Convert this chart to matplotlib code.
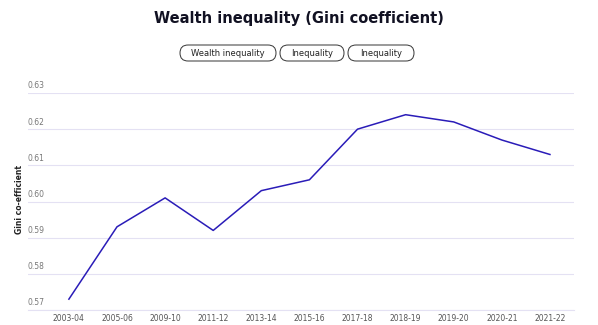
import matplotlib.pyplot as plt
from matplotlib.patches import FancyBboxPatch

years = ["2003-04", "2005-06", "2009-10", "2011-12", "2013-14", "2015-16",
         "2017-18", "2018-19", "2019-20", "2020-21", "2021-22"]
gini = [0.573, 0.593, 0.601, 0.592, 0.603, 0.606, 0.620, 0.624, 0.622, 0.617, 0.613]
y_ticks = [0.57, 0.58, 0.59, 0.60, 0.61, 0.62, 0.63]
buttons = ["Wealth inequality", "Inequality", "Inequality"]

W, H = 598, 325
fig = plt.figure(figsize=(W / 100, H / 100), dpi=100)

# axes area in pixels: x 28..574, y 93..310
ax = fig.add_axes([28 / W, 1 - 310 / H, (574 - 28) / W, (310 - 93) / H])
x = list(range(len(years)))
ax.plot(x, gini, color="#2a1cb8", lw=1.1)
ax.set_xlim(-0.85, 10.5)
ax.set_ylim(0.57, 0.63)
ax.set_yticks(y_ticks)
ax.yaxis.grid(True, color="#e4e1f3", lw=0.8)
ax.set_axisbelow(True)
ax.tick_params(axis="y", length=0, labelleft=False)
for v in y_ticks:
    ax.text(0.0, v + 0.0007, f"{v:.2f}", transform=ax.get_yaxis_transform(),
            fontsize=5.5, color="#777777", va="bottom", ha="left")
ax.set_xticks(x)
ax.set_xticklabels(years, fontsize=5.5, color="#555555")
ax.tick_params(axis="x", length=0, pad=3)
for s in ["top", "right", "left"]:
    ax.spines[s].set_visible(False)
ax.spines["bottom"].set_color("#e4e1f3")

fig.text(20 / W, 1 - 200 / H, "Gini co-efficient", rotation=90, fontsize=5.5,
         fontweight="bold", ha="center", va="center", color="#222222")

fig.text(299 / W, 1 - 18 / H, "Wealth inequality (Gini coefficient)", fontsize=10.5,
         fontweight="bold", ha="center", va="center", color="#111122")

# pill buttons, drawn on a pixel-unit overlay
top = fig.add_axes([0, 0, 1, 1])
top.set_xlim(0, W)
top.set_ylim(H, 0)
top.axis("off")
top.patch.set_visible(False)
boxes = [(180, 276), (280, 344), (348, 414)]
for label, (x0, x1) in zip(buttons, boxes):
    y0, y1 = 45, 61
    pill = FancyBboxPatch((x0, y0), x1 - x0, y1 - y0,
                          boxstyle="round,pad=0,rounding_size=8",
                          fc="white", ec="#333333", lw=0.7)
    top.add_patch(pill)
    top.text((x0 + x1) / 2, 53, label, fontsize=6, ha="center",
             va="center", color="#222222")

fig.savefig("out.png", dpi=100)
